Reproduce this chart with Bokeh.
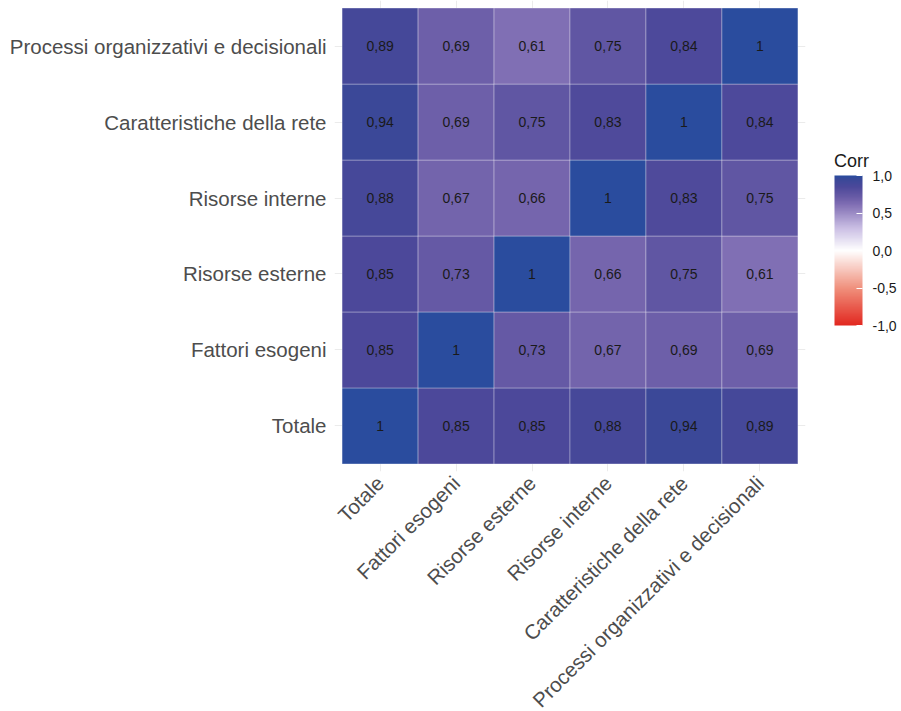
import math
from bokeh.plotting import figure
from bokeh.models import (ColumnDataSource, LinearColorMapper, ColorBar, FixedTicker,
                          CustomJSTickFormatter, FactorRange, Legend, LegendItem)
from bokeh.transform import transform
from bokeh.embed import file_html
from bokeh.resources import INLINE
from bokeh.core.properties import value

# ---- data ----
variables = ["Totale", "Fattori esogeni", "Risorse esterne", "Risorse interne",
             "Caratteristiche della rete", "Processi organizzativi e decisionali"]
corr_totale = [1.00, 0.85, 0.85, 0.88, 0.94, 0.89]
corr_fattori_esogeni = [0.85, 1.00, 0.73, 0.67, 0.69, 0.69]
corr_risorse_esterne = [0.85, 0.73, 1.00, 0.66, 0.75, 0.61]
corr_risorse_interne = [0.88, 0.67, 0.66, 1.00, 0.83, 0.75]
corr_caratteristiche = [0.94, 0.69, 0.75, 0.83, 1.00, 0.84]
corr_processi = [0.89, 0.69, 0.61, 0.75, 0.84, 1.00]
colorbar_ticks = [-1.0, -0.5, 0.0, 0.5, 1.0]
legend_title = "Corr"

rows = [corr_totale, corr_fattori_esogeni, corr_risorse_esterne,
        corr_risorse_interne, corr_caratteristiche, corr_processi]

# ---- colour scale (style) ----
anchors = [(-1.0, (226, 40, 32)), (-0.5, (240, 145, 125)), (0.0, (255, 255, 255)),
           (0.3, (202, 190, 228)), (0.6, (132, 114, 182)), (0.7, (108, 94, 168)),
           (0.85, (76, 72, 154)), (0.95, (58, 72, 152)), (1.0, (42, 76, 158))]

def interp(v):
    for (a, ca), (b, cb) in zip(anchors[:-1], anchors[1:]):
        if a <= v <= b:
            t = (v - a) / (b - a)
            c = [round(ca[i] + (cb[i] - ca[i]) * t) for i in range(3)]
            return "#%02x%02x%02x" % tuple(c)
    return "#%02x%02x%02x" % anchors[-1][1]

n = 256
palette = [interp(-1 + 2 * i / (n - 1)) for i in range(n)]
mapper = LinearColorMapper(palette=palette, low=-1, high=1)

xs, ys, vals, labels = [], [], [], []
for yi, row in enumerate(rows):
    for xi, v in enumerate(row):
        xs.append(variables[xi])
        ys.append(variables[yi])
        vals.append(v)
        labels.append("1" if v == 1 else ("%.2f" % v).replace(".", ","))
src = ColumnDataSource(dict(x=xs, y=ys, v=vals, label=labels))

FONT = "Liberation Sans"

p = figure(x_range=FactorRange(factors=variables, range_padding=0.1, range_padding_units="absolute"),
           y_range=FactorRange(factors=variables, range_padding=0.1, range_padding_units="absolute"),
           frame_width=471, frame_height=471,
           min_border_left=334, min_border_top=0, min_border_bottom=240, min_border_right=96,
           output_backend="svg", toolbar_location=None)
p.outline_line_color = None
p.background_fill_color = "white"

p.grid.grid_line_color = "#EBEBEB"
p.grid.grid_line_width = 1

tiles = p.rect(x="x", y="y", width=1, height=1, source=src,
               fill_color=transform("v", mapper), line_color="white", line_alpha=0.3, line_width=1)
p.text(x="x", y="y", text="label", source=src, text_align="center", text_baseline="middle",
       text_font=value(FONT), text_font_size="14px", text_color="#1a1a1a")

for ax in (p.xaxis, p.yaxis):
    ax.axis_line_color = None
    ax.major_tick_line_color = None
    ax.major_tick_out = 0
    ax.major_tick_in = 0
    ax.major_label_text_font = FONT
    ax.major_label_text_font_size = "20.5px"
    ax.major_label_text_color = "#4d4d4d"
    ax.major_label_standoff = 8
p.xaxis.major_label_orientation = math.pi / 4

color_bar = ColorBar(color_mapper=mapper, ticker=FixedTicker(ticks=colorbar_ticks),
                     formatter=CustomJSTickFormatter(code="return tick.toFixed(1).replace('.', ',');"),
                     width=28, height=150, title=None,
                     major_label_text_font=FONT, major_label_text_font_size="14px",
                     major_label_text_color="#1a1a1a",
                     major_tick_line_color="white", major_tick_in=6, major_tick_out=0,
                     bar_line_color=None, border_line_color=None, background_fill_alpha=0,
                     padding=10, margin=0, label_standoff=10, location=(490, 136))
p.add_layout(color_bar)

# legend title "Corr" above the colour bar (carrier legend with an invisible item)
dummy = p.scatter(x=[variables[0]], y=[variables[0]], size=1, alpha=0)
title_legend = Legend(items=[LegendItem(label=" ", renderers=[dummy])],
                      title=legend_title, title_text_font=FONT, title_text_font_size="18px",
                      title_text_font_style="normal", title_text_color="#1a1a1a", title_standoff=0,
                      label_text_font_size="1px", glyph_height=1, glyph_width=1, label_height=1,
                      label_width=1, padding=0, margin=25, spacing=0,
                      border_line_color=None, background_fill_alpha=0,
                      location=(29, 298))
p.add_layout(title_legend, "right")

open("out.html", "w").write(file_html(p, INLINE))
